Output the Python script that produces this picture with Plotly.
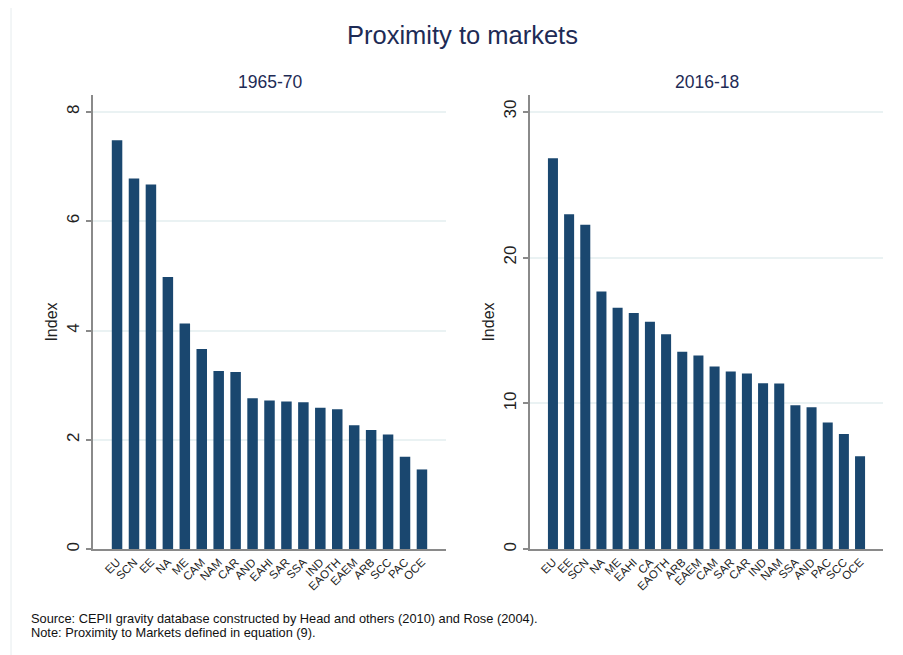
import plotly.graph_objects as go

# ---- data ----
cats_1965 = ["EU", "SCN", "EE", "NA", "ME", "CAM", "NAM", "CAR", "AND", "EAHI",
             "SAR", "SSA", "IND", "EAOTH", "EAEM", "ARB", "SCC", "PAC", "OCE"]
vals_1965 = [7.48, 6.78, 6.67, 4.98, 4.13, 3.66, 3.26, 3.24, 2.76, 2.72,
             2.70, 2.69, 2.59, 2.56, 2.27, 2.18, 2.10, 1.69, 1.46]

cats_2016 = ["EU", "EE", "SCN", "NA", "ME", "EAHI", "CA", "EAOTH", "ARB", "EAEM",
             "CAM", "SAR", "CAR", "IND", "NAM", "SSA", "AND", "PAC", "SCC", "OCE"]
vals_2016 = [26.8, 22.97, 22.24, 17.68, 16.55, 16.2, 15.6, 14.74, 13.55, 13.28,
             12.53, 12.19, 12.05, 11.39, 11.37, 9.88, 9.73, 8.70, 7.9, 6.38]

yticks_1965 = [0, 2, 4, 6, 8]
yticks_2016 = [0, 10, 20, 30]

title_text = "Proximity to markets"
subtitles = ["1965-70", "2016-18"]
note_lines = ["Source: CEPII gravity database constructed by Head and others (2010) and Rose (2004).",
              "Note: Proximity to Markets defined in equation (9)."]

OFF = 8  # page body margin
W, H = 903 - OFF, 655 - OFF
BAR = "#1a476f"
GRID = "#eaf2f3"
AXIS = "#8a8a8a"
FONT = "Liberation Sans, Arial, sans-serif"
TXT = "#222222"

def px(x):
    return (x - OFF) / W

def py(y):
    return 1 - (y - OFF) / H

fig = go.Figure()
fig.add_trace(go.Bar(x=list(range(len(cats_1965))), y=vals_1965, marker_color=BAR,
                     marker_line_width=0, width=0.62, xaxis="x", yaxis="y", showlegend=False))
fig.add_trace(go.Bar(x=list(range(len(cats_2016))), y=vals_2016, marker_color=BAR,
                     marker_line_width=0, width=0.62, xaxis="x2", yaxis="y2", showlegend=False))

ydom = [py(551), py(95)]

def xaxis_cfg(dom, cats, anchor):
    n = len(cats)
    return dict(domain=dom, anchor=anchor, range=[-1.42, n - 1 + 1.42],
                tickmode="array", tickvals=list(range(n)), ticktext=cats,
                tickangle=-45, ticks="", showgrid=False, zeroline=False,
                showline=True, linecolor=AXIS, linewidth=1.5,
                tickfont=dict(family=FONT, size=11.5, color=TXT), fixedrange=True)

def yaxis_cfg(rng, ticks, anchor):
    return dict(domain=ydom, anchor=anchor, range=rng, tickmode="array",
                tickvals=ticks, ticktext=[str(t) for t in ticks],
                tickangle=-90, ticks="outside", ticklen=5, tickcolor=AXIS, tickwidth=1.5,
                showgrid=True, gridcolor=GRID, gridwidth=1.5, zeroline=False,
                showline=True, linecolor=AXIS, linewidth=1.5,
                tickfont=dict(family=FONT, size=17, color=TXT),
                title=dict(text="Index", font=dict(family=FONT, size=16, color=TXT), standoff=3),
                fixedrange=True)

fig.update_layout(
    width=W, height=H,
    margin=dict(l=0, r=0, t=0, b=0),
    paper_bgcolor="white", plot_bgcolor="white",
    bargap=0.38,
    xaxis=xaxis_cfg([px(93), px(446)], cats_1965, "y"),
    yaxis=yaxis_cfg([0, 8.31], yticks_1965, "x"),
    xaxis2=xaxis_cfg([px(530), px(883)], cats_2016, "y2"),
    yaxis2=yaxis_cfg([0, 31.16], yticks_2016, "x2"),
    font=dict(family=FONT, color=TXT),
)

# outer frame
fig.add_shape(type="rect", xref="paper", yref="paper",
              x0=px(11), x1=px(912), y0=py(664), y1=py(5.5),
              line=dict(color="#e6ecee", width=1), fillcolor="rgba(0,0,0,0)", layer="below")

fig.add_annotation(text=title_text, x=px(462), y=py(35), xref="paper", yref="paper",
                   showarrow=False, xanchor="center", yanchor="middle",
                   font=dict(family=FONT, size=25.5, color="#1e2b55"))
fig.add_annotation(text=subtitles[0], x=px(269.5), y=py(82), xref="paper", yref="paper",
                   showarrow=False, xanchor="center", yanchor="middle",
                   font=dict(family=FONT, size=17.5, color="#1e2b55"))
fig.add_annotation(text=subtitles[1], x=px(706.5), y=py(82), xref="paper", yref="paper",
                   showarrow=False, xanchor="center", yanchor="middle",
                   font=dict(family=FONT, size=17.5, color="#1e2b55"))
for i, line in enumerate(note_lines):
    fig.add_annotation(text=line, x=px(29), y=py(620 + 14 * i), xref="paper", yref="paper",
                       showarrow=False, xanchor="left", yanchor="middle",
                       font=dict(family=FONT, size=12.8, color="#111111"))

fig.write_html("out.html")
